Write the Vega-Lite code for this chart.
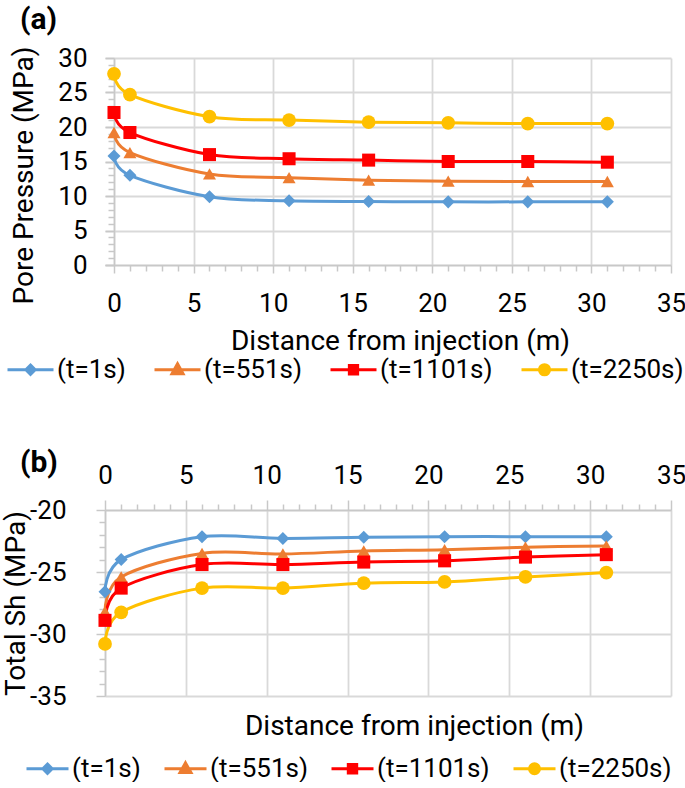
{
  "$schema": "https://vega.github.io/schema/vega-lite/v6.json",
  "background": "white",
  "padding": {"left": 1, "top": 5, "right": 0, "bottom": 0},
  "bounds": "flush",
  "spacing": 245,
  "config": {
    "view": {"stroke": null},
    "font": "Roboto",
    "axis": {
      "domainColor": "#c8c8c8", "domainWidth": 1.5,
      "tickColor": "#c8c8c8", "tickWidth": 1.5,
      "gridColor": "#d9d9d9", "gridWidth": 1.8,
      "labelFont": "Roboto", "labelFontSize": 26, "labelColor": "#000",
      "titleFont": "Roboto", "titleFontSize": 28, "titleFontWeight": "normal", "titleColor": "#000",
      "labelFlush": false, "labelOverlap": false
    },
    "legend": {
      "labelFont": "Roboto", "labelFontSize": 26, "labelColor": "#000",
      "symbolStrokeWidth": 3, "labelOffset": 2, "labelLimit": 300
    }
  },
  "resolve": {"scale": {"color": "independent"}, "legend": {"color": "independent"}},
  "datasets": {
    "pore": [
      {"d": 0, "p": 15.8, "s": "(t=1s)"}, {"d": 1, "p": 13.0, "s": "(t=1s)"}, {"d": 6, "p": 9.9, "s": "(t=1s)"}, {"d": 11, "p": 9.3, "s": "(t=1s)"},
      {"d": 16, "p": 9.2, "s": "(t=1s)"}, {"d": 21, "p": 9.15, "s": "(t=1s)"}, {"d": 26, "p": 9.15, "s": "(t=1s)"}, {"d": 31, "p": 9.15, "s": "(t=1s)"},
      {"d": 0, "p": 19.2, "s": "(t=551s)"}, {"d": 1, "p": 16.3, "s": "(t=551s)"}, {"d": 6, "p": 13.2, "s": "(t=551s)"}, {"d": 11, "p": 12.65, "s": "(t=551s)"},
      {"d": 16, "p": 12.3, "s": "(t=551s)"}, {"d": 21, "p": 12.15, "s": "(t=551s)"}, {"d": 26, "p": 12.1, "s": "(t=551s)"}, {"d": 31, "p": 12.1, "s": "(t=551s)"},
      {"d": 0, "p": 22.1, "s": "(t=1101s)"}, {"d": 1, "p": 19.2, "s": "(t=1101s)"}, {"d": 6, "p": 16.0, "s": "(t=1101s)"}, {"d": 11, "p": 15.4, "s": "(t=1101s)"},
      {"d": 16, "p": 15.2, "s": "(t=1101s)"}, {"d": 21, "p": 15.0, "s": "(t=1101s)"}, {"d": 26, "p": 15.0, "s": "(t=1101s)"}, {"d": 31, "p": 14.9, "s": "(t=1101s)"},
      {"d": 0, "p": 27.7, "s": "(t=2250s)"}, {"d": 1, "p": 24.7, "s": "(t=2250s)"}, {"d": 6, "p": 21.5, "s": "(t=2250s)"}, {"d": 11, "p": 21.0, "s": "(t=2250s)"},
      {"d": 16, "p": 20.7, "s": "(t=2250s)"}, {"d": 21, "p": 20.6, "s": "(t=2250s)"}, {"d": 26, "p": 20.5, "s": "(t=2250s)"}, {"d": 31, "p": 20.5, "s": "(t=2250s)"}
    ],
    "sh": [
      {"d": 0, "v": -26.6, "s": "(t=1s)"}, {"d": 1, "v": -24.0, "s": "(t=1s)"}, {"d": 6, "v": -22.15, "s": "(t=1s)"}, {"d": 11, "v": -22.3, "s": "(t=1s)"},
      {"d": 16, "v": -22.2, "s": "(t=1s)"}, {"d": 21, "v": -22.15, "s": "(t=1s)"}, {"d": 26, "v": -22.15, "s": "(t=1s)"}, {"d": 31, "v": -22.15, "s": "(t=1s)"},
      {"d": 0, "v": -28.2, "s": "(t=551s)"}, {"d": 1, "v": -25.4, "s": "(t=551s)"}, {"d": 6, "v": -23.5, "s": "(t=551s)"}, {"d": 11, "v": -23.55, "s": "(t=551s)"},
      {"d": 16, "v": -23.3, "s": "(t=551s)"}, {"d": 21, "v": -23.2, "s": "(t=551s)"}, {"d": 26, "v": -23.0, "s": "(t=551s)"}, {"d": 31, "v": -22.9, "s": "(t=551s)"},
      {"d": 0, "v": -28.9, "s": "(t=1101s)"}, {"d": 1, "v": -26.3, "s": "(t=1101s)"}, {"d": 6, "v": -24.4, "s": "(t=1101s)"}, {"d": 11, "v": -24.4, "s": "(t=1101s)"},
      {"d": 16, "v": -24.2, "s": "(t=1101s)"}, {"d": 21, "v": -24.1, "s": "(t=1101s)"}, {"d": 26, "v": -23.8, "s": "(t=1101s)"}, {"d": 31, "v": -23.6, "s": "(t=1101s)"},
      {"d": 0, "v": -30.8, "s": "(t=2250s)"}, {"d": 1, "v": -28.25, "s": "(t=2250s)"}, {"d": 6, "v": -26.3, "s": "(t=2250s)"}, {"d": 11, "v": -26.3, "s": "(t=2250s)"},
      {"d": 16, "v": -25.9, "s": "(t=2250s)"}, {"d": 21, "v": -25.8, "s": "(t=2250s)"}, {"d": 26, "v": -25.4, "s": "(t=2250s)"}, {"d": 31, "v": -25.05, "s": "(t=2250s)"}
    ]
  },
  "vconcat": [
    {
      "width": 566,
      "height": 207,
      "title": {"text": "(a)", "anchor": "start", "frame": "group", "dx": -85, "offset": 10, "fontSize": 30, "fontWeight": "bold", "font": "Roboto", "color": "#000"},
      "data": {"name": "pore"},
      "encoding": {
        "x": {
          "field": "d", "type": "quantitative",
          "scale": {"domain": [-0.566, 35], "nice": false, "zero": false},
          "axis": {
            "values": [0,1,2,3,4,5,6,7,8,9,10,11,12,13,14,15,16,17,18,19,20,21,22,23,24,25,26,27,28,29,30,31,32,33,34,35],
            "labelExpr": "datum.value % 5 === 0 ? datum.label : ''",
            "tickSize": {"condition": {"test": "datum.value % 5 === 0", "value": 8}, "value": 6},
            "gridOpacity": {"condition": {"test": "datum.value % 5 === 0", "value": 1}, "value": 0},
            "labelPadding": 17,
            "title": "Distance from injection (m)",
            "titleX": 295, "titleY": 76, "titleBaseline": "middle", "titleAlign": "center"
          }
        },
        "y": {
          "field": "p", "type": "quantitative",
          "scale": {"domain": [0, 30], "nice": false},
          "axis": {
            "offset": -9,
            "values": [0,1,2,3,4,5,6,7,8,9,10,11,12,13,14,15,16,17,18,19,20,21,22,23,24,25,26,27,28,29,30],
            "labelExpr": "datum.value % 5 === 0 ? datum.label : ''",
            "tickSize": {"condition": {"test": "datum.value % 5 === 0", "value": 9}, "value": 6},
            "gridOpacity": {"condition": {"test": "datum.value % 5 === 0", "value": 1}, "value": 0},
            "labelPadding": 18,
            "title": "Pore Pressure (MPa)",
            "titleX": -90, "titleY": 117, "titleBaseline": "middle", "titleAlign": "center", "titleAngle": -90
          }
        },
        "color": {
          "field": "s", "type": "nominal",
          "scale": {"domain": ["(t=1s)", "(t=551s)", "(t=1101s)", "(t=2250s)"], "range": ["#5B9BD5", "#ED7D31", "#FF0000", "#FFC000"]},
          "legend": {
            "title": null, "orient": "none", "direction": "horizontal", "legendX": -99, "legendY": 287,
            "symbolSize": 2116, "columnPadding": 22, "symbolType": "M-1,0H1",
            "encode": {"symbols": {"update": {
              "shape": {"signal": "datum.value === '(t=1s)' ? 'M-1,0H1M0,-0.2L0.2,0L0,0.2L-0.2,0Z' : datum.value === '(t=551s)' ? 'M-1,0H1M0,-0.26L0.24,0.17L-0.24,0.17Z' : datum.value === '(t=1101s)' ? 'M-1,0H1M-0.18,-0.18H0.18V0.18H-0.18Z' : 'M-1,0H1M-0.22,0A0.22,0.22,0,1,1,0.22,0A0.22,0.22,0,1,1,-0.22,0Z'"},
              "fill": {"signal": "datum.value === '(t=1s)' ? '#5B9BD5' : datum.value === '(t=551s)' ? '#ED7D31' : datum.value === '(t=1101s)' ? '#FF0000' : '#FFC000'"},
              "stroke": {"signal": "datum.value === '(t=1s)' ? '#5B9BD5' : datum.value === '(t=551s)' ? '#ED7D31' : datum.value === '(t=1101s)' ? '#FF0000' : '#FFC000'"},
              "strokeWidth": {"value": 3},
              "opacity": {"value": 1}
            }}}
          }
        }
      },
      "layer": [
        {"mark": {"type": "line", "interpolate": "cardinal", "strokeWidth": 3}},
        {"transform": [{"filter": "datum.s === '(t=1s)'"}], "mark": {"type": "point", "shape": "diamond", "filled": true, "opacity": 1, "size": 170}},
        {"transform": [{"filter": "datum.s === '(t=551s)'"}], "mark": {"type": "point", "shape": "triangle-up", "filled": true, "opacity": 1, "size": 170}},
        {"transform": [{"filter": "datum.s === '(t=1101s)'"}], "mark": {"type": "point", "shape": "square", "filled": true, "opacity": 1, "size": 170}},
        {"transform": [{"filter": "datum.s === '(t=2250s)'"}], "mark": {"type": "point", "shape": "circle", "filled": true, "opacity": 1, "size": 190}}
      ]
    },
    {
      "width": 566,
      "height": 186,
      "title": {"text": "(b)", "anchor": "start", "frame": "group", "dx": -85, "dy": 26, "offset": 10, "fontSize": 30, "fontWeight": "bold", "font": "Roboto", "color": "#000"},
      "data": {"name": "sh"},
      "encoding": {
        "x": {
          "field": "d", "type": "quantitative",
          "scale": {"domain": [0, 35], "nice": false, "zero": false},
          "axis": {
            "orient": "top",
            "values": [0,1,2,3,4,5,6,7,8,9,10,11,12,13,14,15,16,17,18,19,20,21,22,23,24,25,26,27,28,29,30,31,32,33,34,35],
            "labelExpr": "datum.value % 5 === 0 ? datum.label : ''",
            "tickSize": {"condition": {"test": "datum.value % 5 === 0", "value": 10}, "value": 6},
            "gridOpacity": {"condition": {"test": "datum.value % 5 === 0", "value": 1}, "value": 0},
            "labelPadding": 12,
            "title": "Distance from injection (m)",
            "titleX": 309, "titleY": 216, "titleBaseline": "middle", "titleAlign": "center"
          }
        },
        "y": {
          "field": "v", "type": "quantitative",
          "scale": {"domain": [-35, -20], "nice": false, "zero": false},
          "axis": {
            "values": [-35,-34,-33,-32,-31,-30,-29,-28,-27,-26,-25,-24,-23,-22,-21,-20],
            "labelExpr": "datum.value % 5 === 0 ? '-' + abs(datum.value) : ''",
            "tickSize": {"condition": {"test": "datum.value % 5 === 0", "value": 9}, "value": 6},
            "gridOpacity": {"condition": {"test": "datum.value % 5 === 0", "value": 1}, "value": 0},
            "labelPadding": 30,
            "title": "Total Sh (MPa)",
            "titleX": -89, "titleY": 93, "titleBaseline": "middle", "titleAlign": "center", "titleAngle": -90
          }
        },
        "color": {
          "field": "s", "type": "nominal",
          "scale": {"domain": ["(t=1s)", "(t=551s)", "(t=1101s)", "(t=2250s)"], "range": ["#5B9BD5", "#ED7D31", "#FF0000", "#FFC000"]},
          "legend": {
            "title": null, "orient": "none", "direction": "horizontal", "legendX": -80, "legendY": 236,
            "symbolSize": 1764, "columnPadding": 17, "symbolType": "M-1,0H1",
            "encode": {"symbols": {"update": {
              "shape": {"signal": "datum.value === '(t=1s)' ? 'M-1,0H1M0,-0.22L0.22,0L0,0.22L-0.22,0Z' : datum.value === '(t=551s)' ? 'M-1,0H1M0,-0.28L0.26,0.18L-0.26,0.18Z' : datum.value === '(t=1101s)' ? 'M-1,0H1M-0.2,-0.2H0.2V0.2H-0.2Z' : 'M-1,0H1M-0.24,0A0.24,0.24,0,1,1,0.24,0A0.24,0.24,0,1,1,-0.24,0Z'"},
              "fill": {"signal": "datum.value === '(t=1s)' ? '#5B9BD5' : datum.value === '(t=551s)' ? '#ED7D31' : datum.value === '(t=1101s)' ? '#FF0000' : '#FFC000'"},
              "stroke": {"signal": "datum.value === '(t=1s)' ? '#5B9BD5' : datum.value === '(t=551s)' ? '#ED7D31' : datum.value === '(t=1101s)' ? '#FF0000' : '#FFC000'"},
              "strokeWidth": {"value": 3},
              "opacity": {"value": 1}
            }}}
          }
        }
      },
      "layer": [
        {"mark": {"type": "line", "interpolate": "cardinal", "strokeWidth": 3}},
        {"transform": [{"filter": "datum.s === '(t=1s)'"}], "mark": {"type": "point", "shape": "diamond", "filled": true, "opacity": 1, "size": 170}},
        {"transform": [{"filter": "datum.s === '(t=551s)'"}], "mark": {"type": "point", "shape": "triangle-up", "filled": true, "opacity": 1, "size": 170}},
        {"transform": [{"filter": "datum.s === '(t=1101s)'"}], "mark": {"type": "point", "shape": "square", "filled": true, "opacity": 1, "size": 170}},
        {"transform": [{"filter": "datum.s === '(t=2250s)'"}], "mark": {"type": "point", "shape": "circle", "filled": true, "opacity": 1, "size": 190}}
      ]
    }
  ]
}
